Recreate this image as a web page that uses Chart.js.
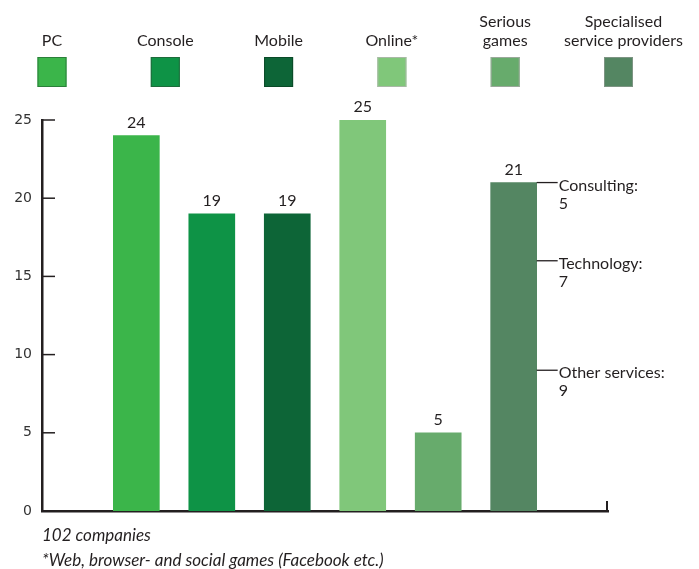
<!DOCTYPE html>
<html>
<head>
<meta charset="utf-8">
<script src="https://cdn.jsdelivr.net/npm/chart.js@4"></script>
<style>
  body { margin: 0; background: #fff; }
  #wrap { width: 699px; height: 569px; }
</style>
</head>
<body>
<div id="wrap"><canvas id="games"></canvas></div>
<script>
// companies per segment
const categories = [['PC'], ['Console'], ['Mobile'], ['Online*'], ['Serious', 'games'], ['Specialised', 'service providers']];
const companies = [24, 19, 19, 25, 5, 21];
const barColors = ['#3bb54a', '#0e9346', '#0d6537', '#80c77a', '#67ab6c', '#548662'];
const swatchBorders = ['#2b7f3a', '#1e6b3b', '#0a4a28', '#a9b8a6', '#9aa89a', '#7d9483'];

// breakdown of the service providers bar
const serviceLabels = ['Consulting:', 'Technology:', 'Other services:'];
const serviceCounts = [5, 7, 9];

const yTicks = [0, 5, 10, 15, 20, 25];
const notes = ['102 companies', '*Web, browser- and social games (Facebook etc.)'];

const ink = '#231f20';
const font = 'Lato, "Noto Sans", sans-serif';

const extras = {
  id: 'extras',
  afterDraw(chart) {
    const ctx = chart.ctx;
    const ys = chart.scales.y;
    const area = chart.chartArea;
    const bars = chart.getDatasetMeta(0).data;
    ctx.save();

    // legend: swatches with labels above
    categories.forEach((lines, i) => {
      const cx = 52 + i * 113.3;
      ctx.fillStyle = barColors[i];
      ctx.fillRect(cx - 14.5, 57, 29, 30);
      ctx.strokeStyle = swatchBorders[i];
      ctx.lineWidth = 1;
      ctx.strokeRect(cx - 14, 57.5, 28, 29);
      ctx.fillStyle = ink;
      ctx.font = '16px ' + font;
      ctx.textAlign = 'center';
      ctx.textBaseline = 'alphabetic';
      const tx = i === categories.length - 1 ? cx + 5 : cx;
      lines.forEach((t, k) => {
        ctx.fillText(t, tx, 46 - (lines.length - 1 - k) * 19);
      });
    });

    // y tick marks pointing into the plot
    ctx.strokeStyle = ink;
    ctx.lineWidth = 1.5;
    yTicks.forEach(v => {
      const y = ys.getPixelForValue(v);
      ctx.beginPath();
      ctx.moveTo(area.left, y);
      ctx.lineTo(area.left + 13, y);
      ctx.stroke();
    });
    // end tick of the x axis
    ctx.lineWidth = 2;
    ctx.beginPath();
    ctx.moveTo(area.right - 1, area.bottom);
    ctx.lineTo(area.right - 1, area.bottom - 10);
    ctx.stroke();

    // value labels
    ctx.fillStyle = ink;
    ctx.font = '16px ' + font;
    ctx.textAlign = 'center';
    bars.forEach((b, i) => {
      ctx.fillText(String(companies[i]), b.x, b.y - 8);
    });

    // service provider breakdown
    const last = bars[bars.length - 1];
    const right = last.x + last.width / 2;
    let top = companies[companies.length - 1];
    ctx.textAlign = 'left';
    serviceLabels.forEach((label, i) => {
      const y = ys.getPixelForValue(top);
      ctx.lineWidth = 1.3;
      ctx.beginPath();
      ctx.moveTo(right, y);
      ctx.lineTo(right + 21, y);
      ctx.stroke();
      ctx.fillText(label, right + 22, y + 8);
      ctx.fillText(String(serviceCounts[i]), right + 22, y + 26);
      top -= serviceCounts[i];
    });

    // footnotes
    ctx.font = 'italic 17px ' + font;
    notes.forEach((t, i) => ctx.fillText(t, area.left, 541 + i * 25));
    ctx.restore();
  }
};

new Chart(document.getElementById('games'), {
  type: 'bar',
  data: {
    datasets: [{
      data: companies.map((v, i) => ({ x: i, y: v })),
      backgroundColor: barColors,
      barThickness: 46
    }]
  },
  options: {
    responsive: true,
    maintainAspectRatio: false,
    animation: false,
    layout: { padding: { top: 120, right: 91, left: 0, bottom: 0 } },
    plugins: { legend: { display: false }, tooltip: { enabled: false } },
    scales: {
      x: {
        type: 'linear',
        offset: false,
        min: -1.25,
        max: 6.25,
        grid: { display: false, drawTicks: false, offset: false },
        border: { display: true, color: ink, width: 2.5 },
        ticks: { display: false },
        afterFit(scale) { scale.height = 58; }
      },
      y: {
        min: 0,
        max: 25,
        grid: { display: false, drawTicks: false },
        border: { display: true, color: ink, width: 2.5 },
        ticks: {
          stepSize: 5,
          padding: 10,
          color: '#333',
          font: { family: '"DejaVu Sans", sans-serif', size: 14 }
        },
        afterFit(scale) { scale.width = 42; }
      }
    }
  },
  plugins: [extras]
});
</script>
</body>
</html>
